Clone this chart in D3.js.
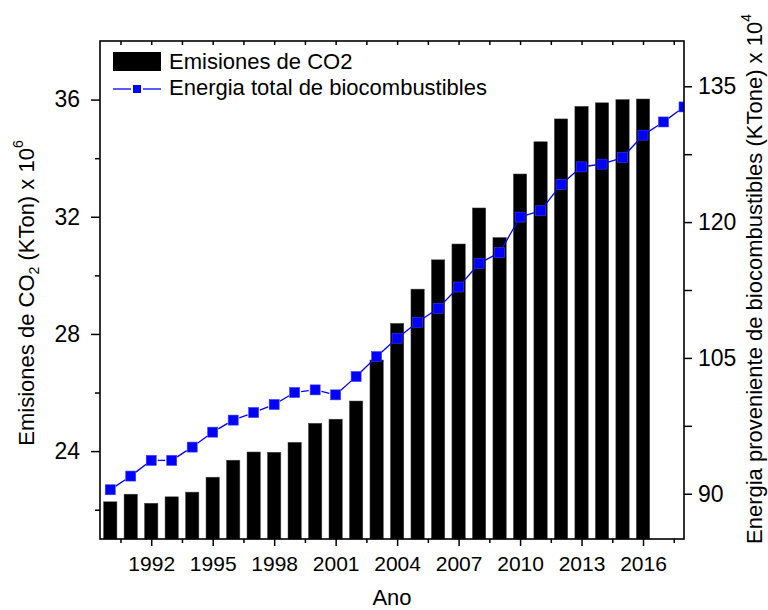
<!DOCTYPE html>
<html>
<head>
<meta charset="utf-8">
<script src="https://cdn.jsdelivr.net/npm/d3@7"></script>
<style>
  html, body { margin: 0; padding: 0; background: #fff; }
  svg { display: block; font-family: "Liberation Sans", Arial, sans-serif; }
</style>
</head>
<body>
<svg id="chart" width="768" height="610"></svg>
<script>
// ---- data ----
const years = [1990,1991,1992,1993,1994,1995,1996,1997,1998,1999,2000,2001,2002,2003,2004,2005,2006,2007,2008,2009,2010,2011,2012,2013,2014,2015,2016,2017,2018];
const barYears = years.slice(0, 27); // 1990-2016
const co2 = [22.27,22.53,22.22,22.44,22.60,23.11,23.69,23.97,23.96,24.30,24.95,25.09,25.71,27.11,28.36,29.53,30.53,31.07,32.30,31.29,33.46,34.56,35.34,35.77,35.89,36.00,36.02];
const bioenergy = [90.44,91.95,93.68,93.68,95.15,96.80,98.13,98.97,99.85,101.18,101.47,100.92,102.94,105.14,107.17,108.94,110.48,112.83,115.44,116.62,120.55,121.25,124.16,126.10,126.40,127.13,129.60,131.06,132.72];
const xMajorTicks = [1992,1995,1998,2001,2004,2007,2010,2013,2016];
const xMinorTicks = [1990.5,1993.5,1996.5,1999.5,2002.5,2005.5,2008.5,2011.5,2014.5,2017.5];
const leftMajorTicks = [24,28,32,36];
const leftMinorTicks = [22,26,30,34];
const rightMajorTicks = [90,105,120,135];
const rightMinorTicks = [97.5,112.5,127.5];
const seriesNames = ["Emisiones de CO2", "Energia total de biocombustibles"];

// ---- layout ----
const L = 100, R = 684, T = 41, B = 539;
const svg = d3.select("#chart");
const x = d3.scaleLinear().domain([1989.5, 2018]).range([L, R]);
const yL = d3.scaleLinear().domain([21, 38]).range([B, T]);
const yR = d3.scaleLinear().domain([85, 140]).range([B, T]);
const blue = "#0000ff";

svg.append("defs").append("clipPath").attr("id", "plotclip")
  .append("rect").attr("x", L).attr("y", T).attr("width", R - L).attr("height", B - T);

// bars
const halfW = 0.325;
svg.append("g").selectAll("rect").data(barYears).join("rect")
  .attr("x", d => x(d - halfW))
  .attr("width", d => x(d + halfW) - x(d - halfW))
  .attr("y", (d, i) => yL(co2[i]))
  .attr("height", (d, i) => B - yL(co2[i]))
  .attr("fill", "#000")
  .attr("stroke", "#444").attr("stroke-width", 0.5);

// line with gaps around markers
const gLine = svg.append("g").attr("clip-path", "url(#plotclip)");
const pts = years.map((yr, i) => [x(yr), yR(bioenergy[i])]);
const gap = 6.5;
const segs = [];
for (let i = 0; i < pts.length - 1; i++) {
  const [x1, y1] = pts[i], [x2, y2] = pts[i + 1];
  const dx = x2 - x1, dy = y2 - y1, len = Math.hypot(dx, dy);
  if (len > 2 * gap) {
    const ux = dx / len, uy = dy / len;
    segs.push([x1 + ux * gap, y1 + uy * gap, x2 - ux * gap, y2 - uy * gap]);
  }
}
gLine.selectAll("line").data(segs).join("line")
  .attr("x1", d => d[0]).attr("y1", d => d[1])
  .attr("x2", d => d[2]).attr("y2", d => d[3])
  .attr("stroke", blue).attr("stroke-width", 1.3);
const ms = 10;
gLine.selectAll("rect").data(pts).join("rect")
  .attr("x", d => d[0] - ms / 2).attr("y", d => d[1] - ms / 2)
  .attr("width", ms).attr("height", ms)
  .attr("fill", blue).attr("stroke", "#3a3aff").attr("stroke-width", 0.6);

// frame
svg.append("rect").attr("x", L).attr("y", T).attr("width", R - L).attr("height", B - T)
  .attr("fill", "none").attr("stroke", "#000").attr("stroke-width", 1.6);

// axes
function styleAxis(g) {
  g.select(".domain").remove();
  g.selectAll("line").attr("stroke", "#000").attr("stroke-width", 1.5);
  g.selectAll("text").attr("fill", "#000").attr("font-family", "'Liberation Sans', Arial, sans-serif");
}
// bottom
svg.append("g").attr("transform", `translate(0,${B})`)
  .call(d3.axisBottom(x).tickValues(xMajorTicks).tickFormat(d3.format("d")).tickSize(7).tickPadding(10))
  .call(styleAxis).call(g => g.selectAll("text").attr("font-size", 21));
svg.append("g").attr("transform", `translate(0,${B})`)
  .call(d3.axisBottom(x).tickValues(xMinorTicks).tickFormat("").tickSize(4))
  .call(styleAxis);
// top (inward)
svg.append("g").attr("transform", `translate(0,${T})`)
  .call(d3.axisBottom(x).tickValues(xMajorTicks.concat(xMinorTicks)).tickFormat("").tickSize(4))
  .call(styleAxis);
// left
svg.append("g").attr("transform", `translate(${L},0)`)
  .call(d3.axisLeft(yL).tickValues(leftMajorTicks).tickFormat(d3.format("d")).tickSize(9).tickPadding(11))
  .call(styleAxis).call(g => g.selectAll("text").attr("font-size", 23));
svg.append("g").attr("transform", `translate(${L},0)`)
  .call(d3.axisLeft(yL).tickValues(leftMinorTicks).tickFormat("").tickSize(5))
  .call(styleAxis);
// right
svg.append("g").attr("transform", `translate(${R},0)`)
  .call(d3.axisRight(yR).tickValues(rightMajorTicks).tickFormat(d3.format("d")).tickSize(8).tickPadding(6))
  .call(styleAxis).call(g => g.selectAll("text").attr("font-size", 23));
svg.append("g").attr("transform", `translate(${R},0)`)
  .call(d3.axisRight(yR).tickValues(rightMinorTicks).tickFormat("").tickSize(8))
  .call(styleAxis);

// axis titles
svg.append("text").attr("x", (L + R) / 2).attr("y", 605).attr("text-anchor", "middle")
  .attr("font-size", 22).text("Ano");

const lt = svg.append("text").attr("transform", "translate(34,293) rotate(-90)")
  .attr("text-anchor", "middle").attr("font-size", 22);
lt.append("tspan").text("Emisiones de CO");
lt.append("tspan").attr("font-size", 14).attr("dy", 5).text("2");
lt.append("tspan").attr("dy", -5).text(" (KTon) x 10");
lt.append("tspan").attr("font-size", 14).attr("dy", -11).text("6");

const rt = svg.append("text").attr("transform", "translate(762,279) rotate(-90)")
  .attr("text-anchor", "middle").attr("font-size", 22);
rt.append("tspan").text("Energia proveniente de biocombustibles (KTone) x 10");
rt.append("tspan").attr("font-size", 14).attr("dy", -11).text("4");

// legend
const lg = svg.append("g");
lg.append("rect").attr("x", 113).attr("y", 52).attr("width", 48).attr("height", 19).attr("fill", "#000");
lg.append("text").attr("x", 169).attr("y", 69).attr("font-size", 22).text(seriesNames[0]);
lg.append("line").attr("x1", 113).attr("x2", 131).attr("y1", 89).attr("y2", 89).attr("stroke", blue).attr("stroke-width", 1.3);
lg.append("line").attr("x1", 143).attr("x2", 161).attr("y1", 89).attr("y2", 89).attr("stroke", blue).attr("stroke-width", 1.3);
lg.append("rect").attr("x", 133).attr("y", 85).attr("width", 8).attr("height", 8).attr("fill", blue);
lg.append("text").attr("x", 169).attr("y", 95).attr("font-size", 22).text(seriesNames[1]);
</script>
</body>
</html>
